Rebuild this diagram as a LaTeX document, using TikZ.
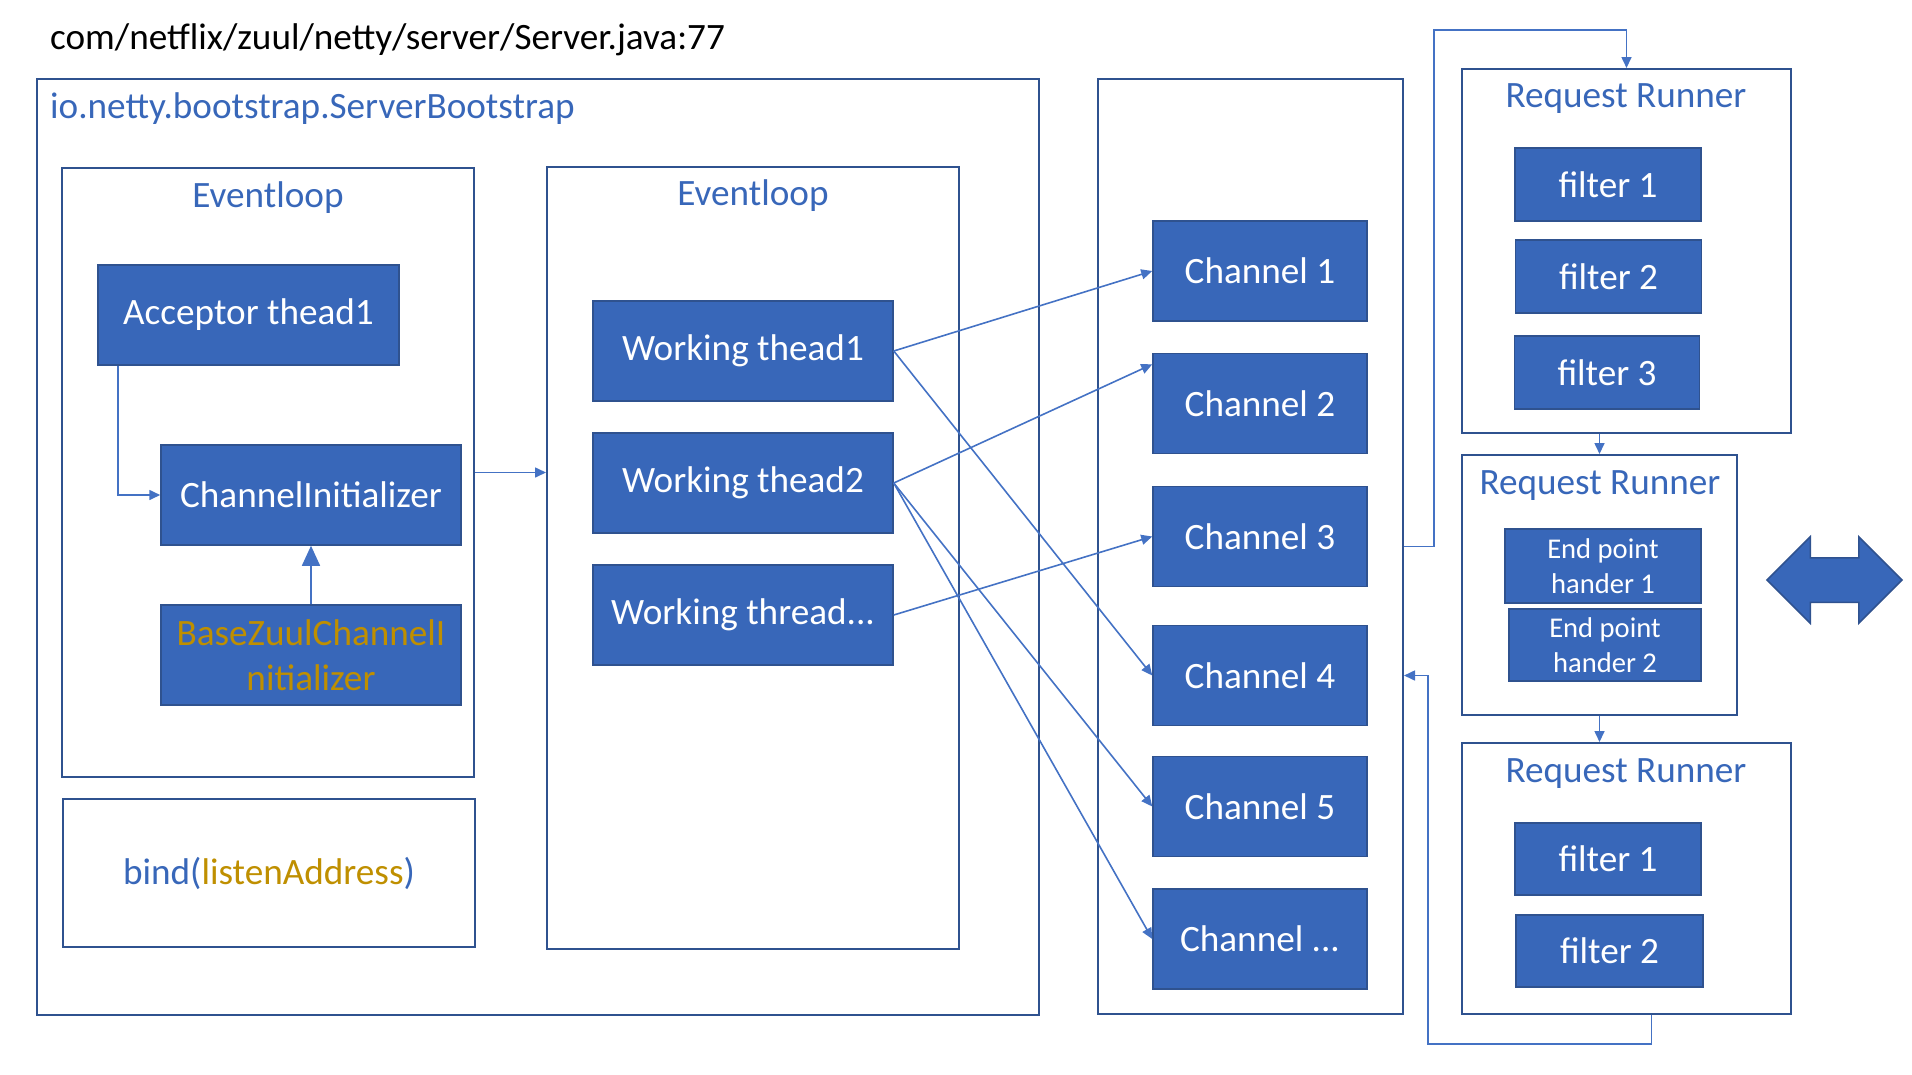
\documentclass[tikz,border=0pt]{standalone}
\usepackage{fontspec}
\setmainfont{Carlito}
\usetikzlibrary{arrows.meta,shapes.arrows}
\definecolor{zuulblue}{HTML}{3867B9}
\definecolor{edgeblue}{HTML}{2F528F}
\definecolor{linkblue}{HTML}{4472C4}
\definecolor{gold}{HTML}{BF8F00}

\begin{document}
\begin{tikzpicture}[
    x=1pt, y=-1pt,
    frame/.style={
        draw=edgeblue,
        line width=2pt,
        inner sep=0pt,
    },
    block/.style={
        fill=zuulblue,
        draw=edgeblue,
        line width=1.5pt,
        text=white,
        inner sep=0pt,
        align=center,
        font=\fontsize{37.2}{44.5}\selectfont,
    },
    small/.style={font=\fontsize{28.6}{35}\selectfont},
    boxtitle/.style={
        text=zuulblue,
        inner sep=0pt,
        font=\fontsize{37.2}{44.5}\selectfont,
    },
    link/.style={
        draw=linkblue,
        line width=1.6pt,
        -{Triangle[length=11pt,width=10pt]},
    },
]

\useasboundingbox (0,0) rectangle (1912,1074);

\node[anchor=base west, inner sep=0pt, font=\fontsize{37.2}{44.5}\selectfont] (src) at (50,49) {com/netflix/zuul/netty/server/Server.java:77};

\node[frame, minimum width=1002pt, minimum height=936pt] (boot) at (538,547) {};
\node[boxtitle, anchor=base west] (bootname) at (50,118) {io.netty.bootstrap.ServerBootstrap};
\node[frame, minimum width=412pt, minimum height=609pt] (ev1) at (268,472.5) {};
\node[boxtitle, anchor=base] (ev1name) at (268,207) {Eventloop};
\node[frame, boxtitle, minimum width=412pt, minimum height=148pt] (bind) at (269,873) {bind(\textcolor{gold}{listenAddress})};
\node[frame, minimum width=412pt, minimum height=782pt] (ev2) at (753,558) {};
\node[boxtitle, anchor=base] (ev2name) at (753,205) {Eventloop};
\node[frame, minimum width=305pt, minimum height=935pt] (chbox) at (1250.5,546.5) {};
\node[frame, minimum width=329pt, minimum height=364pt] (rr1) at (1626.5,251) {};
\node[boxtitle, anchor=base] (rr1name) at (1626,107) {Request Runner};
\node[frame, minimum width=275pt, minimum height=260pt] (rr2) at (1599.5,585) {};
\node[boxtitle, anchor=base] (rr2name) at (1600,494) {Request Runner};
\node[frame, minimum width=329pt, minimum height=271pt] (rr3) at (1626.5,878.5) {};
\node[boxtitle, anchor=base] (rr3name) at (1626,782) {Request Runner};

\node[block, minimum width=301pt, minimum height=100pt] (acc) at (248.5,315) {Acceptor thead1};
\node[block, minimum width=300pt, minimum height=100pt] (cinit) at (311,495) {ChannelInitializer};
\node[block, minimum width=300pt, minimum height=100pt, text=gold] (bzc) at (311,655) {BaseZuulChannelI\\nitializer};

\node[block, minimum width=300pt, minimum height=100pt] (wt1) at (743,351) {Working thead1};
\node[block, minimum width=300pt, minimum height=100pt] (wt2) at (743,483) {Working thead2};
\node[block, minimum width=300pt, minimum height=100pt] (wt3) at (743,615) {Working thread...};

\node[block, minimum width=214pt, minimum height=100pt] (ch1) at (1260,271) {Channel 1};
\node[block, minimum width=214pt, minimum height=100pt] (ch2) at (1260,403.5) {Channel 2};
\node[block, minimum width=214pt, minimum height=100pt] (ch3) at (1260,536.5) {Channel 3};
\node[block, minimum width=214pt, minimum height=100pt] (ch4) at (1260,675.5) {Channel 4};
\node[block, minimum width=214pt, minimum height=100pt] (ch5) at (1260,806.5) {Channel 5};
\node[block, minimum width=214pt, minimum height=100pt] (ch6) at (1260,939) {Channel ...};

\node[block, minimum width=186pt, minimum height=73pt] (f11) at (1608,184.5) {filter 1};
\node[block, minimum width=186pt, minimum height=73pt] (f12) at (1608.5,276.5) {filter 2};
\node[block, minimum width=185pt, minimum height=73pt] (f13) at (1607,372.5) {filter 3};
\node[block, small, minimum width=196pt, minimum height=74pt] (ep1) at (1603,566) {End point\\hander 1};
\node[block, small, minimum width=192pt, minimum height=72pt] (ep2) at (1605,645) {End point\\hander 2};
\node[block, minimum width=186pt, minimum height=72pt] (f31) at (1608,859) {filter 1};
\node[block, minimum width=187pt, minimum height=72pt] (f32) at (1609.5,951) {filter 2};

\node[double arrow, fill=zuulblue, draw=edgeblue, line width=1.5pt, minimum height=135pt, minimum width=85pt, inner xsep=0pt, inner ysep=21.5pt, double arrow head extend=21pt] (swap) at (1834.5,580) {};

\draw[link] ([xshift=21pt]acc.south west) |- (cinit.west);
\draw[link, -{Triangle[length=20pt,width=18pt]}] (bzc.north) -- (cinit.south);
\draw[link] (ev1.east) -- (ev1.east -| ev2.west);

\draw[link] (wt1.east) -- (ch1.west);
\draw[link] (wt1.east) -- (ch4.west);
\draw[link] (wt2.east) -- (ch2.160);
\draw[link] (wt2.east) -- (ch5.west);
\draw[link] (wt2.east) -- (ch6.west);
\draw[link] (wt3.east) -- (ch3.west);

\draw[link] (chbox.east) -- ++(30,0) |- ([yshift=38pt]rr1.north) -- (rr1.north);
\draw[link] (rr1.south -| rr2.north) -- (rr2.north);
\draw[link] (rr2.south) -- (rr2.south |- rr3.north);
\draw[link] ([xshift=25pt]rr3.south) -- ++(0,29) -| ([xshift=24pt]chbox.east |- ch4.west) -- (chbox.east |- ch4.west);

\end{tikzpicture}
\end{document}
